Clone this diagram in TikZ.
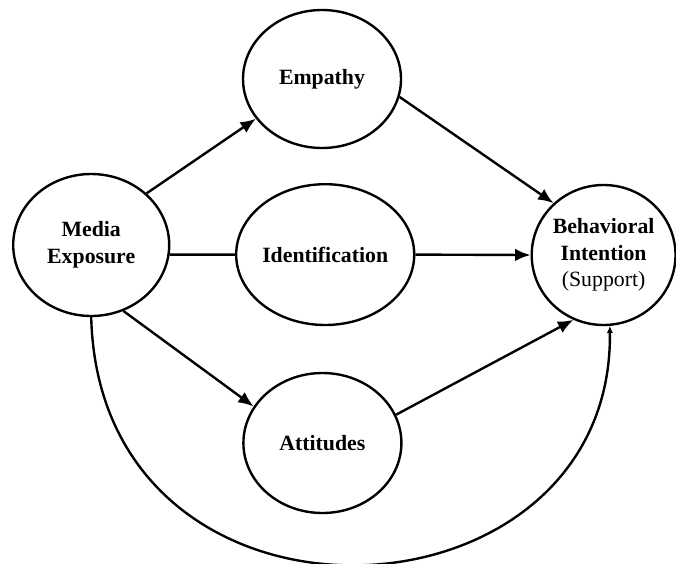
\documentclass[tikz,border=0pt]{standalone}
\usepackage{fontspec}
\setmainfont{Liberation Serif}
\usetikzlibrary{arrows.meta,shapes.geometric}

\begin{document}
\begin{tikzpicture}[>={Latex[length=11pt,width=9pt]}, line width=1.7pt,
    font=\fontsize{15.5}{19}\selectfont\bfseries]
  \tikzstyle{var} = [draw, ellipse, inner sep=0pt, align=center,
                     minimum width=3.95cm, minimum height=3.5cm]

  \useasboundingbox (0,0) rectangle (16.9,14.075);

  \node[var, minimum width=3.9cm, minimum height=3.55cm] (media) at (2.28,7.95) {Media\\Exposure};
  \node[var, minimum height=3.45cm] (emp) at (8.05,12.10) {Empathy};
  \node[var, minimum height=3.52cm] (ident) at (8.13,7.71) {Identification};
  \node[var] (att) at (8.06,3.00) {Attitudes};
  \node[var, minimum width=3.5cm] (bi) at (15.09,7.70)
       {Behavioral\\Intention\\{\mdseries (Support)}};

  % paths out of media exposure
  \draw[->] (media.43) -- (emp.-149);
  \draw (media.-7) -- (ident.west);
  \draw[->] (media.-64) -- (att.152);

  % mediators into behavioral intention
  \draw[->] (emp.-13) -- (bi.134);
  \draw[->] (ident.east) -- (bi.west);
  \draw[->] (att.21) -- (bi.-115);

  % direct effect
  \draw[-{Latex[length=5pt,width=4.5pt]}] (media.south)
    .. controls +(0.22,-8.5) and +(0.1,-7.7) .. (bi.-85);
\end{tikzpicture}
\end{document}
